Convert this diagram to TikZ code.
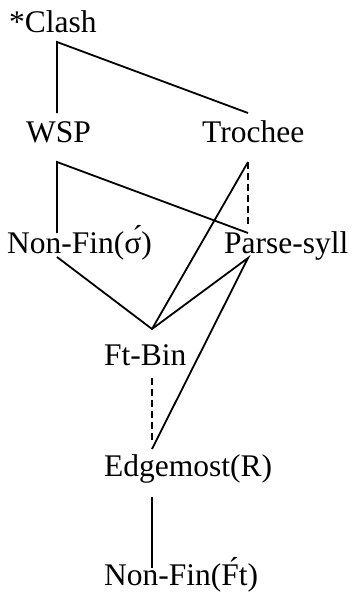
\documentclass[tikz,border=0pt]{standalone}
\usepackage{fontspec}
\setmainfont{Liberation Serif}
\begin{document}
\begin{tikzpicture}[x=1pt,y=-1pt,
  lbl/.style={anchor=base west, inner sep=0pt, font=\fontsize{31.5}{37}\selectfont},
  link/.style={line width=1.8pt, line cap=butt},
  dlink/.style={line width=1.8pt, dash pattern=on 7pt off 4pt}]
\useasboundingbox (0,0) rectangle (352,595);
% labels
\node[lbl] (clash) at (9,32) {*Clash};
\node[lbl] (wsp) at (26,142) {WSP};
\node[lbl] (tro) at (202,142) {Trochee};
\node[lbl] (nfs) at (7,253) {Non-Fin(σ́)};
\node[lbl] (ps) at (224,253) {Parse-syll};
\node[lbl] (fb) at (104,365) {Ft-Bin};
\node[lbl] (em) at (104,476) {Edgemost(R)};
\node[lbl] (nff) at (104,585) {Non-Fin(F́t)};
% connector ends
\coordinate (clash-b) at (57,42);
\coordinate (wsp-t) at (57,113);
\coordinate (tro-t) at (248,113);
\coordinate (wsp-b) at (57,162);
\coordinate (tro-b) at (248,162);
\coordinate (nfs-t) at (57,233);
\coordinate (ps-t) at (248,233);
\coordinate (ps-td) at (248,227);
\coordinate (nfs-b) at (57,257);
\coordinate (ps-b) at (248,258);
\coordinate (fb-t) at (152,329);
\coordinate (fb-b) at (152,378);
\coordinate (em-td) at (152,442);
\coordinate (em-t) at (152,449);
\coordinate (em-b) at (152,497);
\coordinate (nff-t) at (152,568);
% connectors
\draw[link] (wsp-t) -- (clash-b) -- (tro-t);
\draw[link] (nfs-t) -- (wsp-b) -- (ps-t);
\draw[dlink] (tro-b) -- (ps-td);
\draw[link] (tro-b) -- (fb-t);
\draw[link] (nfs-b) -- (fb-t) -- (ps-b) -- (em-t);
\draw[dlink] (fb-b) -- (em-td);
\draw[link] (em-b) -- (nff-t);
\end{tikzpicture}
\end{document}
